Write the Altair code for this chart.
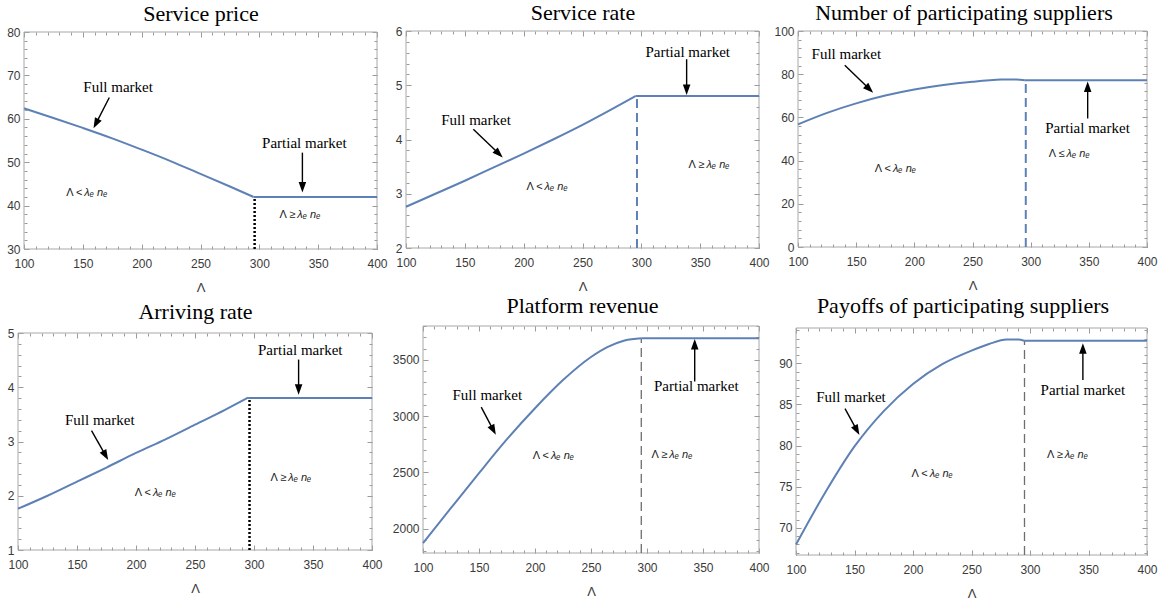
import math

import altair as alt
import pandas as pd

# ---------------------------------------------------------------------------
# Values
# ---------------------------------------------------------------------------
LINE_BLUE = "#5e81b5"
FRAME_GRAY = "#a8a8a8"
TICK_GRAY = "#9a9a9a"
LABEL_GRAY = "#3a3a3a"

SWITCH = 295           # Λ where the full market turns into the partial market
LAM_MIN, LAM_MAX = 100, 400
LAM_TICKS = [100, 150, 200, 250, 300, 350, 400]
LAM_MINOR = list(range(100, 401, 10))

# Service price
PRICE_LAM = [100, 125, 150, 175, 200, 225, 250, 275, 295]
PRICE_FULL = [62.4, 60.2, 57.9, 55.5, 52.9, 50.2, 47.3, 44.4, 42.0]
PRICE_PARTIAL = 42.0
PRICE_TICKS = [30, 40, 50, 60, 70, 80]

# Service rate
RATE_LAM = [100, 125, 150, 175, 200, 225, 250, 275, 295]
RATE_FULL = [2.76, 3.00, 3.24, 3.49, 3.74, 4.00, 4.27, 4.56, 4.80]
RATE_PARTIAL = 4.80
RATE_TICKS = [2, 3, 4, 5, 6]

# Number of participating suppliers
SUPPLY_LAM = [100, 125, 150, 175, 200, 225, 250, 275, 285, 295]
SUPPLY_FULL = [56.8, 62.1, 66.5, 70.1, 72.9, 75.0, 76.5, 77.5, 77.6, 77.2]
SUPPLY_PARTIAL = 77.2
SUPPLY_TICKS = [0, 20, 40, 60, 80, 100]

# Arriving rate
ARRIVE_LAM = [100, 125, 150, 175, 200, 225, 250, 275, 295]
ARRIVE_FULL = [1.76, 2.00, 2.26, 2.52, 2.79, 3.04, 3.31, 3.58, 3.81]
ARRIVE_PARTIAL = 3.80
ARRIVE_TICKS = [1, 2, 3, 4, 5]

# Platform revenue
REVENUE_LAM = [100, 125, 150, 175, 200, 225, 250, 265, 280, 295]
REVENUE_FULL = [1873, 2185, 2494, 2795, 3070, 3320, 3525, 3615, 3672, 3692]
REVENUE_PARTIAL = 3692
REVENUE_TICKS = [2000, 2500, 3000, 3500]

# Payoffs of participating suppliers
PAYOFF_LAM = [100, 125, 150, 175, 200, 225, 250, 265, 280, 290, 295]
PAYOFF_FULL = [67.97, 74.3, 79.9, 84.2, 87.5, 89.9, 91.55, 92.35, 92.9, 92.9, 92.75]
PAYOFF_PARTIAL = 92.75
PAYOFF_TICKS = [70, 75, 80, 85, 90]

LESS = "<"
GEQ = "≥"
LEQ = "≤"

# Figure size and the frame of every panel (left, right, top, bottom) in pixels
FIG_W, FIG_H = 1172, 605

PANELS = [
    dict(title="Service price", lam=PRICE_LAM, full=PRICE_FULL, partial=PRICE_PARTIAL,
         ydom=[30, 80], yticks=PRICE_TICKS, yminor=list(range(30, 81, 2)),
         box=(24, 377, 32, 249), title_gap=11, title_dx=0,
         marker=dict(x=296, color="black", dash=[2, 2], width=2.5),
         full_label=(180, 67.4), full_arrow=(172.5, 64.9, 159.1, 57.8),
         part_label=(338.3, 54.5), part_arrow=(336.6, 52.2, 336.6, 43.0),
         left_region=(153, 42.9, LESS), right_region=(334, 37.9, GEQ)),
    dict(title="Service rate", lam=RATE_LAM, full=RATE_FULL, partial=RATE_PARTIAL,
         ydom=[2, 6], yticks=RATE_TICKS, yminor=[round(2 + i * 0.2, 1) for i in range(21)],
         box=(406, 759, 31, 248), title_gap=11, title_dx=0,
         marker=dict(x=296.3, color=LINE_BLUE, dash=[9, 5], width=2),
         full_label=(159.5, 4.36), full_arrow=(157.2, 4.19, 182.2, 3.67),
         part_label=(339.4, 5.62), part_arrow=(338.5, 5.48, 338.5, 4.82),
         left_region=(219.5, 3.12, LESS), right_region=(357, 3.53, GEQ)),
    dict(title="Number of participating suppliers", lam=SUPPLY_LAM, full=SUPPLY_FULL,
         partial=SUPPLY_PARTIAL, ydom=[0, 100], yticks=SUPPLY_TICKS,
         yminor=list(range(0, 101, 4)), box=(798, 1147, 31, 247), title_gap=11,
         title_dx=-9,
         marker=dict(x=295.8, color=LINE_BLUE, dash=[9, 5], width=2),
         full_label=(141.6, 89.2), full_arrow=(140.2, 84.2, 164.6, 71.4),
         part_label=(348.9, 54.9), part_arrow=(349, 59.5, 349, 76.6),
         left_region=(183.3, 36.3, LESS), right_region=(332.6, 43.0, LEQ)),
    dict(title="Arriving rate", lam=ARRIVE_LAM, full=ARRIVE_FULL, partial=ARRIVE_PARTIAL,
         ydom=[1, 5], yticks=ARRIVE_TICKS, yminor=[round(1 + i * 0.2, 1) for i in range(21)],
         box=(18, 372, 333, 550), title_gap=14, title_dx=0,
         marker=dict(x=296.2, color="black", dash=[2, 2], width=2.5),
         full_label=(169.3, 3.4), full_arrow=(162.3, 3.2, 176.4, 2.66),
         part_label=(339.2, 4.69), part_arrow=(337.8, 4.51, 337.8, 3.86),
         left_region=(216, 2.05, LESS), right_region=(330.7, 2.32, GEQ)),
    dict(title="Platform revenue", lam=REVENUE_LAM, full=REVENUE_FULL,
         partial=REVENUE_PARTIAL, ydom=[1785, 3800], yticks=REVENUE_TICKS,
         yminor=list(range(1800, 3801, 100)), box=(423, 759, 326, 553), title_gap=13,
         title_dx=-9,
         marker=dict(x=294.9, color="#6e6e6e", dash=[9, 5], width=1.3),
         full_label=(157.4, 3189), full_arrow=(152, 3080, 165, 2834),
         part_label=(344, 3263), part_arrow=(342.6, 3308, 342.6, 3684),
         left_region=(216, 2642, LESS), right_region=(321.7, 2651, GEQ)),
    dict(title="Payoffs of participating suppliers", lam=PAYOFF_LAM, full=PAYOFF_FULL,
         partial=PAYOFF_PARTIAL, ydom=[66.7, 94.3], yticks=PAYOFF_TICKS,
         yminor=list(range(67, 95)), box=(796, 1147, 328, 555), title_gap=15,
         title_dx=-9,
         marker=dict(x=295.3, color="#6e6e6e", dash=[9, 5], width=1.3),
         full_label=(147, 85.94), full_arrow=(141.9, 84.5, 154.2, 81.3),
         part_label=(345.2, 86.75), part_arrow=(345.2, 87.97, 345.2, 92.45),
         left_region=(216, 76.6, LESS), right_region=(331.5, 78.8, GEQ)),
]

SERIF = "Liberation Serif"
SANS = "Liberation Sans"
HEAD_PATH = "M0,-1L0.72,1L-0.72,1Z"
HEAD_SIZE = 110
MAJOR, MINOR = 5, 3    # tick lengths, drawn inward from the frame


def side_axis(orient, box, values, size, **kw):
    """Frame ticks on one side of a panel, pointing into the plot."""
    left, right, top, bottom = box
    offset = {
        "bottom": bottom - size - FIG_H,
        "top": -(top + size),
        "left": -(left + size),
        "right": right - size - FIG_W,
    }[orient]
    kw.setdefault("labels", False)
    kw.setdefault("title", None)
    return alt.Axis(orient=orient, values=values, tickSize=size, offset=offset,
                    domain=False, grid=False, **kw)


def panel(p):
    left, right, top, bottom = p["box"]
    y0, y1 = p["ydom"]
    xs = alt.Scale(domain=[LAM_MIN, LAM_MAX], range=[left, right], nice=False, zero=False)
    ys = alt.Scale(domain=p["ydom"], range=[bottom, top], nice=False, zero=False)
    px_x = (right - left) / (LAM_MAX - LAM_MIN)
    px_y = (bottom - top) / (y1 - y0)

    def X(field="lam", axis=None):
        return alt.X(f"{field}:Q", scale=xs, axis=axis)

    def Y(field="val", axis=None):
        return alt.Y(f"{field}:Q", scale=ys, axis=axis)

    anchor = pd.DataFrame({"lam": [LAM_MIN], "val": [y0]})

    def axes(x_axis, y_axis):
        return alt.Chart(anchor).mark_point(opacity=0).encode(x=X(axis=x_axis),
                                                              y=Y(axis=y_axis))

    layers = []

    # frame
    frame_df = pd.DataFrame({"lam": [LAM_MIN], "lam2": [LAM_MAX], "val": [y0], "val2": [y1]})
    layers.append(alt.Chart(frame_df).mark_rect(
        fillOpacity=0, stroke=FRAME_GRAY, strokeWidth=1
    ).encode(x=X(), x2="lam2:Q", y=Y(), y2="val2:Q"))

    # labelled axes, minor ticks, and the plain top/right ticks; the top axis
    # carries the panel title
    box = p["box"]
    layers.append(axes(
        side_axis("bottom", box, LAM_TICKS, MAJOR, labels=True, title="Λ",
                  labelFlush=False, labelOverlap=False, labelPadding=9, titlePadding=12),
        side_axis("left", box, p["yticks"], MAJOR, labels=True, labelOverlap=False,
                  labelPadding=4, format="d"),
    ))
    layers.append(axes(side_axis("bottom", box, LAM_MINOR, MINOR),
                       side_axis("left", box, p["yminor"], MINOR)))
    layers.append(axes(
        side_axis("top", box, LAM_TICKS, MAJOR, title=p["title"], titleFont=SERIF,
                  titleFontSize=22, titleFontWeight="normal", titleColor="black",
                  titleBaseline="alphabetic", titlePadding=p["title_gap"],
                  titleX=(left + right) / 2 + p["title_dx"]),
        side_axis("right", box, p["yticks"], MAJOR),
    ))
    layers.append(axes(side_axis("top", box, LAM_MINOR, MINOR),
                       side_axis("right", box, p["yminor"], MINOR)))

    # threshold marker
    m = p["marker"]
    marker_df = pd.DataFrame({"lam": [m["x"]], "val": [y0], "val2": [p["partial"]]})
    layers.append(alt.Chart(marker_df).mark_rule(
        color=m["color"], strokeDash=m["dash"], strokeWidth=m["width"]
    ).encode(x=X(), y=Y(), y2="val2:Q"))

    # full market curve and partial market plateau
    full_df = pd.DataFrame({"lam": p["lam"], "val": p["full"]})
    part_df = pd.DataFrame({"lam": [SWITCH, LAM_MAX], "val": [p["partial"], p["partial"]]})
    layers.append(alt.Chart(full_df).mark_line(
        color=LINE_BLUE, strokeWidth=2, interpolate="monotone").encode(x=X(), y=Y()))
    layers.append(alt.Chart(part_df).mark_line(
        color=LINE_BLUE, strokeWidth=2).encode(x=X(), y=Y()))

    # arrows: shaft ends at the centre of the head, head tip at the target
    rows = []
    for (xa, ya, xb, yb) in (p["full_arrow"], p["part_arrow"]):
        dx = (xb - xa) * px_x
        dy = (yb - ya) * px_y
        length = math.hypot(dx, dy)
        ux, uy = dx / length, dy / length
        half = math.sqrt(HEAD_SIZE) / 2
        cx = xb - ux * half / px_x
        cy = yb - uy * half / px_y
        ang = (math.degrees(math.atan2(ux, uy)) + 360) % 360
        rows.append({"lam": xa, "val": ya, "lam2": cx, "val2": cy, "ang": ang})
    arrow_df = pd.DataFrame(rows)
    layers.append(alt.Chart(arrow_df).mark_rule(color="black", strokeWidth=1.4).encode(
        x=X(), y=Y(), x2="lam2:Q", y2="val2:Q"))
    layers.append(alt.Chart(arrow_df).mark_point(
        shape=HEAD_PATH, size=HEAD_SIZE, filled=True, color="black", opacity=1
    ).encode(x=X("lam2"), y=Y("val2"), angle=alt.Angle("ang:Q", scale=None)))

    # "Full market" / "Partial market"
    label_df = pd.DataFrame({
        "lam": [p["full_label"][0], p["part_label"][0]],
        "val": [p["full_label"][1], p["part_label"][1]],
        "label": ["Full market", "Partial market"],
    })
    layers.append(alt.Chart(label_df).mark_text(
        font=SERIF, fontSize=15, color="black", align="center", baseline="middle"
    ).encode(x=X(), y=Y(), text="label:N"))

    # region conditions, Λ vs λe ne
    reg = [p["left_region"], p["right_region"]]
    region_df = pd.DataFrame({
        "lam": [r[0] for r in reg],
        "val": [r[1] for r in reg],
        "head": ["Λ " + r[2] for r in reg],
        "tail": ["λₑ nₑ" for r in reg],
    })
    layers.append(alt.Chart(region_df).mark_text(
        font=SANS, fontSize=11, color="#222222", align="right", baseline="middle", dx=-4
    ).encode(x=X(), y=Y(), text="head:N"))
    layers.append(alt.Chart(region_df).mark_text(
        font=SANS, fontSize=11, fontStyle="italic", color="#222222", align="left",
        baseline="middle", dx=-2
    ).encode(x=X(), y=Y(), text="tail:N"))

    return alt.layer(*layers).resolve_axis(x="independent", y="independent")


chart = alt.layer(*[panel(p) for p in PANELS]).resolve_scale(
    x="independent", y="independent"
).resolve_axis(
    x="independent", y="independent"
).properties(
    width=FIG_W, height=FIG_H, padding=0, background="white",
).configure_view(
    stroke="transparent",
).configure_axis(
    labelFont=SANS, labelFontSize=12, labelColor=LABEL_GRAY,
    tickColor=TICK_GRAY, tickWidth=1, minExtent=0,
    titleFont=SANS, titleFontSize=13, titleFontWeight="normal", titleColor=LABEL_GRAY,
)

chart.save("out.html", embed_options={"renderer": "svg", "actions": False})
